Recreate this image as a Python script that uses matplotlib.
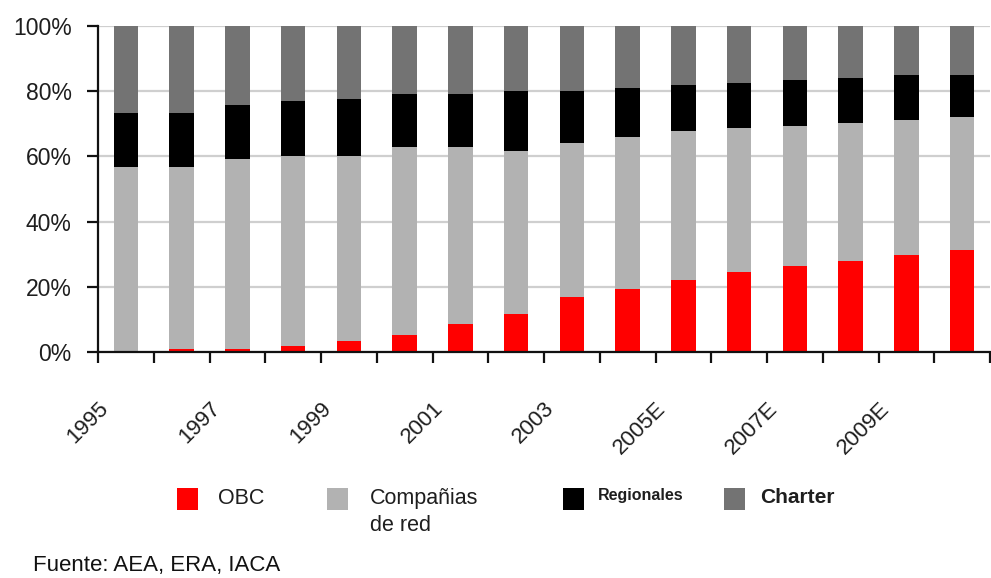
import numpy as np
import matplotlib
matplotlib.use("Agg")
import matplotlib.pyplot as plt
from matplotlib.patches import Rectangle

plt.rcParams["font.family"] = ["Liberation Sans", "DejaVu Sans"]

# Market share by airline segment (%)
years = ["1995", "1996", "1997", "1998", "1999", "2000", "2001", "2002",
         "2003", "2004", "2005E", "2006E", "2007E", "2008E", "2009E", "2010E"]
obc = [0.0, 1.0, 1.0, 1.9, 3.5, 5.1, 8.5, 11.8, 17.0, 19.3, 22.0, 24.5, 26.4, 28.0, 29.8, 31.4]
red = [56.9, 55.8, 58.2, 58.3, 56.7, 57.7, 54.3, 49.9, 47.0, 46.7, 45.7, 44.1, 43.0, 42.2, 41.4, 40.6]
regionales = [16.5, 16.6, 16.7, 16.7, 17.4, 16.4, 16.4, 18.3, 16.0, 15.0, 14.1, 14.0, 14.1, 14.0, 13.9, 13.1]
charter = [26.6, 26.6, 24.1, 23.1, 22.4, 20.8, 20.8, 20.0, 20.0, 19.0, 18.2, 17.4, 16.5, 15.8, 14.9, 14.9]

series = [
    ("OBC", obc, "#FF0000"),
    ("Compañias\nde red", red, "#B2B2B2"),
    ("Regionales", regionales, "#000000"),
    ("Charter", charter, "#737373"),
]

W, H = 991, 578
fig = plt.figure(figsize=(W / 100, H / 100), dpi=100)
fig.patch.set_facecolor("white")

def fx(px):
    return px / W

def fy(py):
    return 1 - py / H

ax = fig.add_axes([fx(98), fy(352), fx(990) - fx(98), fy(26) - fy(352)])

x = np.arange(len(years))
bottom = np.zeros(len(years))
for name, vals, color in series:
    ax.bar(x, vals, width=0.44, bottom=bottom, color=color, edgecolor="none", zorder=3)
    bottom += np.array(vals)

ax.set_xlim(-0.5, len(years) - 0.5)
ax.set_ylim(0, 100)

ax.set_yticks(np.arange(0, 101, 20))
ax.set_yticklabels([f"{v}%" for v in range(0, 101, 20)])
ax.yaxis.grid(True, color="#CFCFCF", linewidth=1.6, zorder=0)
ax.set_axisbelow(True)

ax.set_xticks(np.arange(-0.5, len(years), 1))
ax.set_xticklabels([])

for side in ("top", "right"):
    ax.spines[side].set_visible(False)
for side in ("left", "bottom"):
    ax.spines[side].set_linewidth(1.6)
    ax.spines[side].set_color("#111111")
    ax.spines[side].set_zorder(4)

ax.tick_params(axis="y", direction="out", length=8, width=1.6, pad=11,
               labelsize=16.5, labelcolor="#1e1e1e", color="#111111")
ax.tick_params(axis="x", direction="out", length=8, width=1.6, color="#111111")

# Rotated year labels on every other category
for i in range(0, len(years), 2):
    ax.annotate(years[i], xy=(i, 0), xycoords=("data", "axes fraction"),
                xytext=(-13, -46), textcoords="offset pixels",
                rotation=45, ha="right", va="top", fontsize=16, color="#1e1e1e")

# Legend
legend_items = [
    (177, 218, "OBC", "#FF0000", dict(fontsize=15.5)),
    (327, 370, "Compañias\nde red", "#B2B2B2", dict(fontsize=15.5, linespacing=1.4)),
    (563, 598, "Regionales", "#000000", dict(fontsize=11.5, fontweight="bold")),
    (724, 760, "Charter", "#737373", dict(fontsize=15, fontweight="bold")),
]
for sx, tx, label, color, kw in legend_items:
    fig.add_artist(Rectangle((fx(sx), fy(510)), fx(21), 22 / H,
                             transform=fig.transFigure, facecolor=color,
                             edgecolor="none"))
    fig.text(fx(tx), fy(488), label, ha="left", va="top", color="#1e1e1e", **kw)

fig.text(fx(33), fy(565), "Fuente: AEA, ERA, IACA", ha="left", va="center",
         fontsize=16, color="#111111")

fig.savefig("out.png", dpi=100, facecolor="white")
